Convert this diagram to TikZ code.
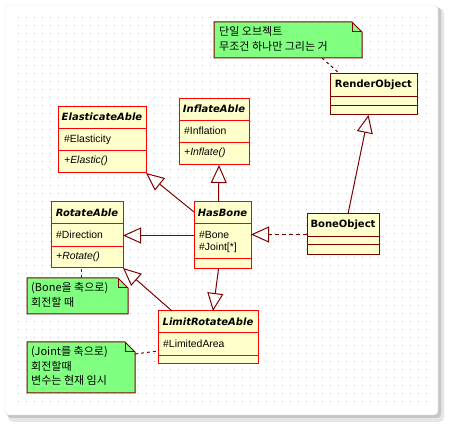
\documentclass[tikz,border=0pt]{standalone}
\usepackage{fontspec}
\setmainfont{Liberation Sans}
\newfontfamily\ttlfont{DejaVu Sans}
\newfontfamily\kofont{Noto Sans CJK KR}
\usetikzlibrary{arrows.meta}

\definecolor{clsfill}{RGB}{255,255,204}
\definecolor{notefill}{RGB}{128,255,128}
\definecolor{darkred}{RGB}{128,0,0}
\definecolor{brightred}{RGB}{255,0,0}
\definecolor{dotgray}{RGB}{192,192,192}

\begin{document}
\begin{tikzpicture}[
    x=1pt, y=-1pt,                          % pixel grid, y down
    cls/.style={rectangle, draw=brightred, fill=clsfill, line width=1pt, inner sep=0pt, outer sep=0pt, anchor=north west},
    clsdark/.style={cls, draw=darkred},
    ttl/.style={font=\ttlfont\fontsize{10}{12}\selectfont\bfseries, inner sep=0pt},
    mbr/.style={font=\fontsize{10.4}{12.5}\selectfont, inner sep=0pt, anchor=west},
    notebox/.style={rectangle, inner sep=0pt, outer sep=0pt, anchor=north west},
    notedraw/.style={draw=darkred, fill=notefill, line width=1pt, line join=miter},
    notetxt/.style={font=\kofont\fontsize{11}{14.8}\selectfont, align=left, inner sep=0pt, anchor=north west},
    gen/.style={draw=darkred, line width=1pt, -{Triangle[open, length=18pt, width=16pt]}},
    real/.style={gen, dash pattern=on 4pt off 3pt},
    link/.style={draw=darkred, line width=1pt, dash pattern=on 3pt off 3pt},
  ]
  \useasboundingbox (0,0) rectangle (451,427);

  % ---------- panel, shadow and dot grid ----------
  \fill[gray!20, rounded corners=5pt] (8,8) rectangle (444,422);
  \fill[gray!45, rounded corners=4pt] (7,7) rectangle (441,418);
  \fill[white, draw=gray!25, rounded corners=4pt] (5,5) rectangle (438,415);
  \foreach \i in {0,...,51}
  \foreach \j in {0,...,48}
  \fill[dotgray] (17.5+8*\i,17.5+8*\j) rectangle ++(1,1);

  % ---------- classes ----------
  \node[cls, minimum width=88pt, minimum height=66pt] (elast) at (58,107) {};
  \node[cls, minimum width=70pt, minimum height=66pt] (inflate) at (179,99) {};
  \node[cls, minimum width=72pt, minimum height=66pt] (rotate) at (51,202) {};
  \node[cls, minimum width=57pt, minimum height=67pt] (hasbone) at (194,202) {};
  \node[cls, minimum width=100pt, minimum height=53pt] (limit) at (158,311) {};
  \node[clsdark, minimum width=72pt, minimum height=41pt] (boneobj) at (307,214) {};
  \node[clsdark, minimum width=87pt, minimum height=41pt] (render) at (330,74) {};

  % compartment lines
  \foreach \n/\a/\b/\c in {elast/21.5/44/brightred, inflate/21.7/43.3/brightred,
    rotate/22/44.5/brightred, hasbone/22/57/brightred, limit/22/45/brightred,
    boneobj/22.5/31/darkred, render/22.5/31.5/darkred}{%
    \draw[\c, line width=1pt] ([yshift=-\a pt]\n.north west) -- ([yshift=-\a pt]\n.north east);
    \draw[\c, line width=1pt] ([yshift=-\b pt]\n.north west) -- ([yshift=-\b pt]\n.north east);
  }

  % class texts
  \node[ttl] at ([yshift=-10pt]elast.north) {\itshape ElasticateAble};
  \node[mbr] at ([xshift=6pt,yshift=-32.5pt]elast.north west) {\#Elasticity};
  \node[mbr] at ([xshift=6pt,yshift=-54pt]elast.north west) {\itshape +Elastic()};

  \node[ttl] at ([yshift=-10pt]inflate.north) {\itshape InflateAble};
  \node[mbr] at ([xshift=5pt,yshift=-32pt]inflate.north west) {\#Inflation};
  \node[mbr] at ([xshift=5pt,yshift=-54pt]inflate.north west) {\itshape +Inflate()};

  \node[ttl] at ([yshift=-10.5pt]rotate.north) {\itshape RotateAble};
  \node[mbr] at ([xshift=5pt,yshift=-33pt]rotate.north west) {\#Direction};
  \node[mbr] at ([xshift=5pt,yshift=-55pt]rotate.north west) {\itshape +Rotate()};

  \node[ttl] at ([yshift=-10.5pt]hasbone.north) {\itshape HasBone};
  \node[mbr] at ([xshift=5pt,yshift=-33pt]hasbone.north west) {\#Bone};
  \node[mbr] at ([xshift=5pt,yshift=-45.5pt]hasbone.north west) {\#Joint[*]};

  \node[ttl] at ([yshift=-10.5pt]limit.north) {\itshape LimitRotateAble};
  \node[mbr] at ([xshift=5pt,yshift=-33pt]limit.north west) {\#LimitedArea};

  \node[ttl] at ([yshift=-11pt]boneobj.north) {BoneObject};
  \node[ttl] at ([yshift=-11pt]render.north) {RenderObject};

  % ---------- notes ----------
  \node[notebox, minimum width=148pt, minimum height=36pt] (note1) at (214,22) {};
  \node[notebox, minimum width=101pt, minimum height=36pt] (note2) at (27,278) {};
  \node[notebox, minimum width=108pt, minimum height=51pt] (note3) at (27,342) {};
  \foreach \n in {note1,note2,note3}{%
    \draw[notedraw] (\n.north west) -- ([xshift=-10pt]\n.north east) -- ([yshift=-10pt]\n.north east)
      -- (\n.south east) -- (\n.south west) -- cycle;
    \draw[darkred, line width=1pt] ([xshift=-10pt]\n.north east) |- ([yshift=-10pt]\n.north east);
  }
  \node[notetxt] at ([xshift=5pt,yshift=-4pt]note1.north west) {단일 오브젝트\\무조건 하나만 그리는 거};
  \node[notetxt] at ([xshift=4pt,yshift=-4pt]note2.north west) {(Bone을 축으로)\\회전할 때};
  \node[notetxt] at ([xshift=4pt,yshift=-4pt]note3.north west) {(Joint를 축으로)\\회전할때\\변수는 현재 임시};

  % ---------- connectors ----------
  \draw[gen] ([yshift=-10pt]hasbone.north west) -- (elast.south east);
  \draw[gen] ([xshift=-4pt]hasbone.north) -- ([xshift=5pt]inflate.south);
  \draw[gen] (hasbone.west) -- (hasbone.west -| rotate.east);
  \draw[gen] ([xshift=-4pt]hasbone.south) -- ([xshift=5pt]limit.north);
  \draw[gen] ([xshift=14pt]limit.north west) -- (rotate.south east);
  \draw[real] (boneobj.west) -- (boneobj.west -| hasbone.east);
  \draw[gen] ([xshift=5pt]boneobj.north) -- ([xshift=-5pt]render.south);
  \draw[link] ([xshift=-40pt]note1.south east) -- ([xshift=10pt]render.north west);
  \draw[link] ([xshift=4pt]note2.north) -- ([xshift=4pt]note2.north |- rotate.south);
  \draw[link] ([yshift=-12pt]note3.north east) -- ([yshift=-40pt]limit.north west);

\end{tikzpicture}
\end{document}
